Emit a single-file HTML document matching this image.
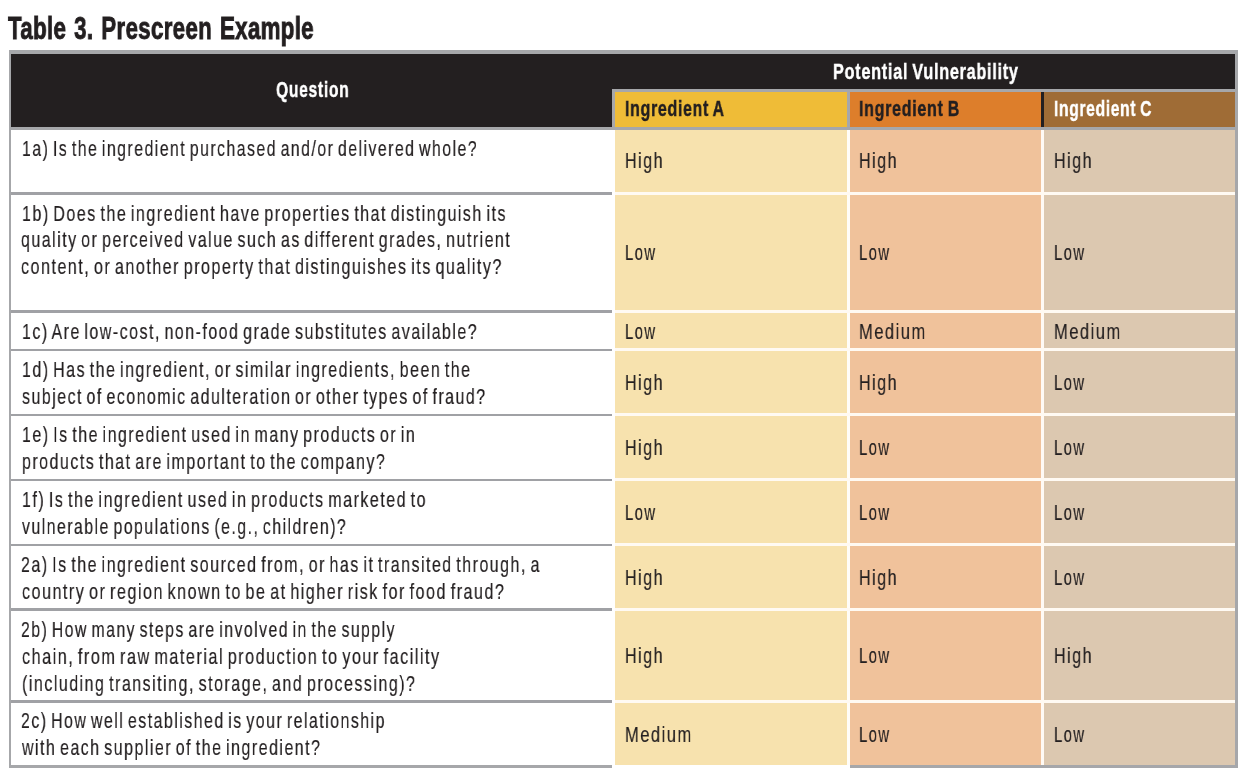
<!DOCTYPE html>
<html><head><meta charset="utf-8"><title>Table 3. Prescreen Example</title>
<style>
html,body{margin:0;padding:0;background:#fff}
body{width:1250px;height:776px;position:relative;overflow:hidden;font-family:"Liberation Sans",sans-serif}
.b{position:absolute}
.t{position:absolute;white-space:pre;line-height:50px;transform-origin:0 50%;will-change:transform;font-family:"Liberation Sans",sans-serif}
.title{font-weight:700;font-size:31.5px;letter-spacing:0.4px;word-spacing:2px;-webkit-text-stroke:0.9px}
.hdr{font-weight:700;font-size:22.5px;letter-spacing:1.0px;word-spacing:-1.5px;-webkit-text-stroke:0.45px}
.body{font-weight:400;font-size:21.5px;letter-spacing:2.0px;word-spacing:-3px;-webkit-text-stroke:0.2px}
.val{font-weight:400;font-size:21.5px;letter-spacing:2.0px;word-spacing:0px;-webkit-text-stroke:0.2px}
</style></head><body>
<div class="b" style="left:8.5px;top:50.4px;width:1229.50px;height:717.40px;background:#a6a7aa"></div>
<div class="b" style="left:11.4px;top:129.5px;width:603.90px;height:635.50px;background:#fff"></div>
<div class="b" style="left:11.4px;top:53.5px;width:600.90px;height:73.00px;background:#231f20"></div>
<div class="b" style="left:612.3px;top:53.5px;width:622.70px;height:35.30px;background:#231f20"></div>
<div class="b" style="left:11.4px;top:126.5px;width:1223.60px;height:3.00px;background:#a6a7aa"></div>
<div class="b" style="left:612.3px;top:88.8px;width:622.70px;height:3.20px;background:#a6a7aa"></div>
<div class="b" style="left:612.3px;top:88.8px;width:3.00px;height:40.70px;background:#a6a7aa"></div>
<div class="b" style="left:615.3px;top:92px;width:232.00px;height:34.50px;background:#efbc37"></div>
<div class="b" style="left:847.3px;top:92px;width:3.00px;height:34.50px;background:#a6a7aa"></div>
<div class="b" style="left:850.3px;top:92px;width:190.70px;height:34.50px;background:#dd7e2b"></div>
<div class="b" style="left:1041px;top:92px;width:3.00px;height:34.50px;background:#231f20"></div>
<div class="b" style="left:1044px;top:92px;width:191.00px;height:34.50px;background:#9f6c36"></div>
<div class="b" style="left:615.3px;top:129.5px;width:231.90px;height:635.50px;background:#f7e2ae"></div>
<div class="b" style="left:847.2px;top:129.5px;width:3.10px;height:635.50px;background:#fffdf8"></div>
<div class="b" style="left:850.3px;top:129.5px;width:190.70px;height:635.50px;background:#f0c29b"></div>
<div class="b" style="left:1041px;top:129.5px;width:3.00px;height:635.50px;background:#fffaf5"></div>
<div class="b" style="left:1044px;top:129.5px;width:191.00px;height:635.50px;background:#dcc8b0"></div>
<div class="b" style="left:612.3px;top:765px;width:237.90px;height:3.00px;background:#fff"></div>
<div class="b" style="left:11.4px;top:192.0px;width:600.80px;height:2.70px;background:#a0a1a5"></div>
<div class="b" style="left:615.3px;top:191.9px;width:619.70px;height:3.00px;background:#fffaf3"></div>
<div class="b" style="left:11.4px;top:310.1px;width:600.80px;height:2.70px;background:#a0a1a5"></div>
<div class="b" style="left:615.3px;top:310.0px;width:619.70px;height:3.00px;background:#fffaf3"></div>
<div class="b" style="left:11.4px;top:348.5px;width:600.80px;height:2.70px;background:#a0a1a5"></div>
<div class="b" style="left:615.3px;top:348.4px;width:619.70px;height:3.00px;background:#fffaf3"></div>
<div class="b" style="left:11.4px;top:413.5px;width:600.80px;height:2.70px;background:#a0a1a5"></div>
<div class="b" style="left:615.3px;top:413.4px;width:619.70px;height:3.00px;background:#fffaf3"></div>
<div class="b" style="left:11.4px;top:478.5px;width:600.80px;height:2.70px;background:#a0a1a5"></div>
<div class="b" style="left:615.3px;top:478.4px;width:619.70px;height:3.00px;background:#fffaf3"></div>
<div class="b" style="left:11.4px;top:543.5px;width:600.80px;height:2.70px;background:#a0a1a5"></div>
<div class="b" style="left:615.3px;top:543.4px;width:619.70px;height:3.00px;background:#fffaf3"></div>
<div class="b" style="left:11.4px;top:608.3000000000001px;width:600.80px;height:2.70px;background:#a0a1a5"></div>
<div class="b" style="left:615.3px;top:608.2px;width:619.70px;height:3.00px;background:#fffaf3"></div>
<div class="b" style="left:11.4px;top:700.0px;width:600.80px;height:2.70px;background:#a0a1a5"></div>
<div class="b" style="left:615.3px;top:699.9px;width:619.70px;height:3.00px;background:#fffaf3"></div>
<div class="t title" style="left:8.00px;top:3.45px;color:#231f20;transform:scaleX(0.7102)">Table 3. Prescreen Example</div>
<div class="t hdr" style="left:275.98px;top:65.38px;color:#ffffff;transform:scaleX(0.6956)">Question</div>
<div class="t hdr" style="left:832.50px;top:46.88px;color:#ffffff;transform:scaleX(0.7223)">Potential Vulnerability</div>
<div class="t hdr" style="left:625.22px;top:84.38px;color:#231f20;transform:scaleX(0.7074)">Ingredient A</div>
<div class="t hdr" style="left:859.41px;top:84.38px;color:#231f20;transform:scaleX(0.7121)">Ingredient B</div>
<div class="t hdr" style="left:1053.93px;top:84.38px;color:#ffffff;transform:scaleX(0.6921)">Ingredient C</div>
<div class="t body" style="left:21.90px;top:123.50px;color:#231f20;transform:scaleX(0.7360)">1a) Is the ingredient purchased and/or delivered whole?</div>
<div class="t body" style="left:21.88px;top:188.50px;color:#231f20;transform:scaleX(0.7456)">1b) Does the ingredient have properties that distinguish its</div>
<div class="t body" style="left:21.44px;top:215.40px;color:#231f20;transform:scaleX(0.7422)">quality or perceived value such as different grades, nutrient</div>
<div class="t body" style="left:21.44px;top:242.40px;color:#231f20;transform:scaleX(0.7483)">content, or another property that distinguishes its quality?</div>
<div class="t body" style="left:21.89px;top:307.00px;color:#231f20;transform:scaleX(0.7426)">1c) Are low-cost, non-food grade substitutes available?</div>
<div class="t body" style="left:21.89px;top:344.80px;color:#231f20;transform:scaleX(0.7424)">1d) Has the ingredient, or similar ingredients, been the</div>
<div class="t body" style="left:21.63px;top:371.60px;color:#231f20;transform:scaleX(0.7413)">subject of economic adulteration or other types of fraud?</div>
<div class="t body" style="left:21.89px;top:409.80px;color:#231f20;transform:scaleX(0.7422)">1e) Is the ingredient used in many products or in</div>
<div class="t body" style="left:21.57px;top:436.60px;color:#231f20;transform:scaleX(0.7436)">products that are important to the company?</div>
<div class="t body" style="left:21.88px;top:474.80px;color:#231f20;transform:scaleX(0.7456)">1f) Is the ingredient used in products marketed to</div>
<div class="t body" style="left:21.60px;top:501.60px;color:#231f20;transform:scaleX(0.7366)">vulnerable populations (e.g., children)?</div>
<div class="t body" style="left:21.46px;top:539.80px;color:#231f20;transform:scaleX(0.7425)">2a) Is the ingredient sourced from, or has it transited through, a</div>
<div class="t body" style="left:21.64px;top:566.60px;color:#231f20;transform:scaleX(0.7492)">country or region known to be at higher risk for food fraud?</div>
<div class="t body" style="left:21.47px;top:604.70px;color:#231f20;transform:scaleX(0.7344)">2b) How many steps are involved in the supply</div>
<div class="t body" style="left:21.64px;top:631.60px;color:#231f20;transform:scaleX(0.7525)">chain, from raw material production to your facility</div>
<div class="t body" style="left:21.67px;top:658.60px;color:#231f20;transform:scaleX(0.7445)">(including transiting, storage, and processing)?</div>
<div class="t body" style="left:21.46px;top:695.90px;color:#231f20;transform:scaleX(0.7388)">2c) How well established is your relationship</div>
<div class="t body" style="left:21.60px;top:723.10px;color:#231f20;transform:scaleX(0.7426)">with each supplier of the ingredient?</div>
<div class="t val" style="left:625.19px;top:136.10px;color:#231f20;transform:scaleX(0.7492)">High</div>
<div class="t val" style="left:859.19px;top:136.10px;color:#231f20;transform:scaleX(0.7492)">High</div>
<div class="t val" style="left:1053.89px;top:136.10px;color:#231f20;transform:scaleX(0.7492)">High</div>
<div class="t val" style="left:625.29px;top:228.40px;color:#231f20;transform:scaleX(0.6898)">Low</div>
<div class="t val" style="left:859.29px;top:228.40px;color:#231f20;transform:scaleX(0.6898)">Low</div>
<div class="t val" style="left:1053.99px;top:228.40px;color:#231f20;transform:scaleX(0.6898)">Low</div>
<div class="t val" style="left:625.29px;top:306.90px;color:#231f20;transform:scaleX(0.6898)">Low</div>
<div class="t val" style="left:859.16px;top:306.90px;color:#231f20;transform:scaleX(0.7665)">Medium</div>
<div class="t val" style="left:1053.86px;top:306.90px;color:#231f20;transform:scaleX(0.7665)">Medium</div>
<div class="t val" style="left:625.19px;top:358.10px;color:#231f20;transform:scaleX(0.7492)">High</div>
<div class="t val" style="left:859.19px;top:358.10px;color:#231f20;transform:scaleX(0.7492)">High</div>
<div class="t val" style="left:1053.99px;top:358.10px;color:#231f20;transform:scaleX(0.6898)">Low</div>
<div class="t val" style="left:625.19px;top:423.10px;color:#231f20;transform:scaleX(0.7492)">High</div>
<div class="t val" style="left:859.29px;top:423.10px;color:#231f20;transform:scaleX(0.6898)">Low</div>
<div class="t val" style="left:1053.99px;top:423.10px;color:#231f20;transform:scaleX(0.6898)">Low</div>
<div class="t val" style="left:625.29px;top:488.10px;color:#231f20;transform:scaleX(0.6898)">Low</div>
<div class="t val" style="left:859.29px;top:488.10px;color:#231f20;transform:scaleX(0.6898)">Low</div>
<div class="t val" style="left:1053.99px;top:488.10px;color:#231f20;transform:scaleX(0.6898)">Low</div>
<div class="t val" style="left:625.19px;top:553.10px;color:#231f20;transform:scaleX(0.7492)">High</div>
<div class="t val" style="left:859.19px;top:553.10px;color:#231f20;transform:scaleX(0.7492)">High</div>
<div class="t val" style="left:1053.99px;top:553.10px;color:#231f20;transform:scaleX(0.6898)">Low</div>
<div class="t val" style="left:625.19px;top:631.40px;color:#231f20;transform:scaleX(0.7492)">High</div>
<div class="t val" style="left:859.29px;top:631.40px;color:#231f20;transform:scaleX(0.6898)">Low</div>
<div class="t val" style="left:1053.89px;top:631.40px;color:#231f20;transform:scaleX(0.7492)">High</div>
<div class="t val" style="left:625.16px;top:709.60px;color:#231f20;transform:scaleX(0.7665)">Medium</div>
<div class="t val" style="left:859.29px;top:709.60px;color:#231f20;transform:scaleX(0.6898)">Low</div>
<div class="t val" style="left:1053.99px;top:709.60px;color:#231f20;transform:scaleX(0.6898)">Low</div>
</body></html>
